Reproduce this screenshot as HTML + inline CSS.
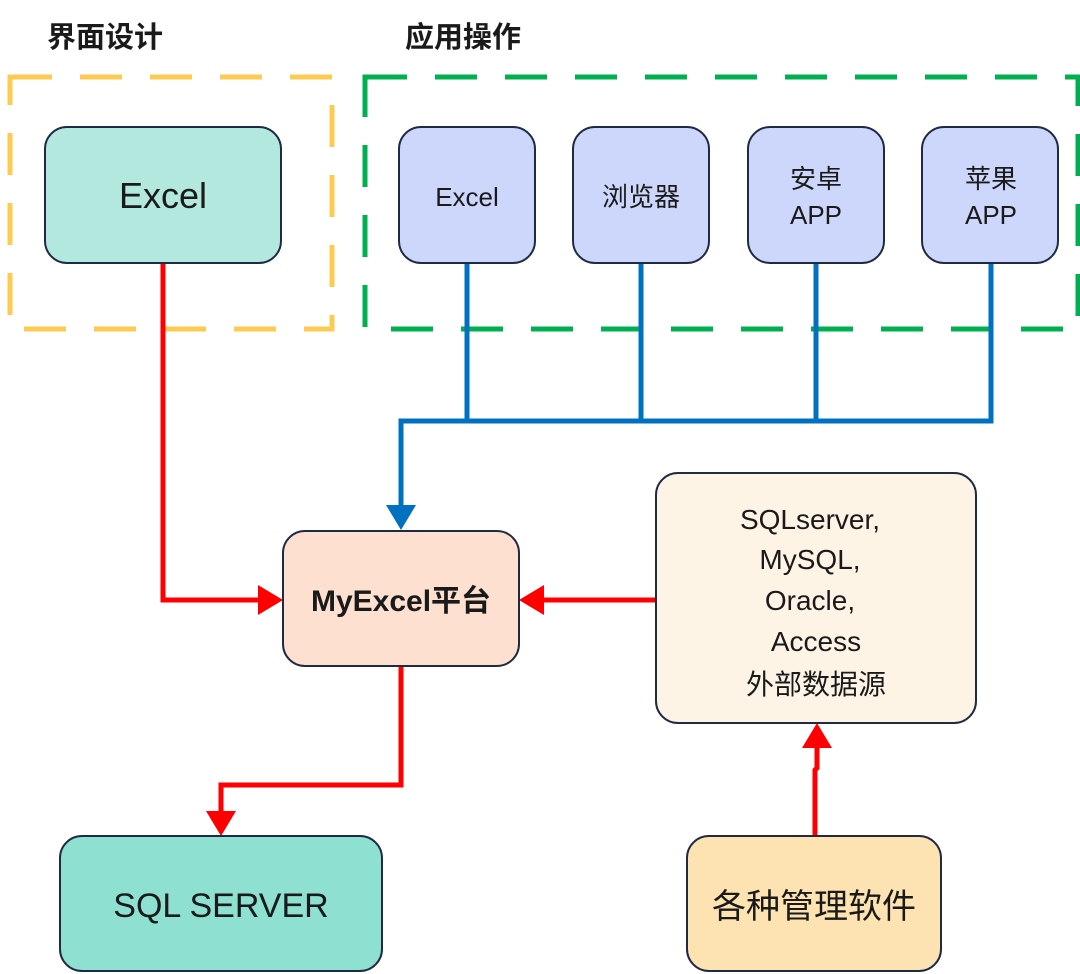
<!DOCTYPE html>
<html><head><meta charset="utf-8"><style>body{margin:0;background:#fff}svg{display:block}text{font-family:"Liberation Sans","Noto Sans CJK SC",sans-serif;fill:#1a1a1a}</style></head><body>
<svg width="1080" height="974" viewBox="0 0 1080 974">
<defs>
<marker id="ar" markerWidth="6" markerHeight="6" refX="4" refY="3" orient="auto" markerUnits="strokeWidth"><path d="M0,0 L5,3 L0,6 Z" fill="#ff0000"/></marker>
<marker id="ab" markerWidth="6" markerHeight="6" refX="4" refY="3" orient="auto" markerUnits="strokeWidth"><path d="M0,0 L5,3 L0,6 Z" fill="#0070c0"/></marker>
</defs>
<text x="47" y="47" font-size="29" font-weight="bold">界面设计</text>
<text x="405" y="47" font-size="29" font-weight="bold">应用操作</text>
<rect x="10" y="77" width="322" height="252" fill="none" stroke="#fecb52" stroke-width="5" stroke-dasharray="42,28"/>
<rect x="365" y="77" width="713" height="252" fill="none" stroke="#00b050" stroke-width="5" stroke-dasharray="42,28"/>
<g stroke="#0070c0" stroke-width="5" fill="none">
<path d="M467,263V421M641,263V421M816,263V421M991,263V421H401V525" marker-end="url(#ab)"/>
</g>
<g stroke="#ff0000" stroke-width="5" fill="none">
<path d="M163,263V600H278" marker-end="url(#ar)"/>
<path d="M656,600H524" marker-end="url(#ar)"/>
<path d="M401,666V785H221V831" marker-end="url(#ar)"/>
<path d="M815,836V770L817,768V728" marker-end="url(#ar)"/>
</g>
<g stroke="#1f2a44" stroke-width="2">
<rect x="45" y="127" width="236" height="136" rx="22" fill="#b3e8de"/>
<rect x="399" y="127" width="136" height="136" rx="22" fill="#cdd7fb"/>
<rect x="573" y="127" width="136" height="136" rx="22" fill="#cdd7fb"/>
<rect x="748" y="127" width="136" height="136" rx="22" fill="#cdd7fb"/>
<rect x="922" y="127" width="136" height="136" rx="22" fill="#cdd7fb"/>
<rect x="283" y="531" width="236" height="135" rx="22" fill="#fde0cf"/>
<rect x="656" y="473" width="320" height="250" rx="22" fill="#fef4e6"/>
<rect x="60" y="836" width="322" height="135" rx="22" fill="#8ee0d0"/>
<rect x="687" y="836" width="254" height="135" rx="22" fill="#fde3b2"/>
</g>
<g text-anchor="middle">
<text x="163" y="208" font-size="36">Excel</text>
<text x="467" y="206" font-size="26">Excel</text>
<text x="641" y="206" font-size="26">浏览器</text>
<text x="816" y="188" font-size="26">安卓</text>
<text x="816" y="224" font-size="26">APP</text>
<text x="991" y="188" font-size="26">苹果</text>
<text x="991" y="224" font-size="26">APP</text>
<text x="401" y="611" font-size="30" font-weight="bold">MyExcel平台</text>
<text x="810" y="529" font-size="28">SQLserver,</text>
<text x="810" y="569" font-size="28">MySQL,</text>
<text x="810" y="610" font-size="28">Oracle,</text>
<text x="816" y="651" font-size="28">Access</text>
<text x="816" y="694" font-size="28">外部数据源</text>
<text x="221" y="917" font-size="34">SQL SERVER</text>
<text x="814" y="918" font-size="34">各种管理软件</text>
</g>
</svg>
</body></html>
